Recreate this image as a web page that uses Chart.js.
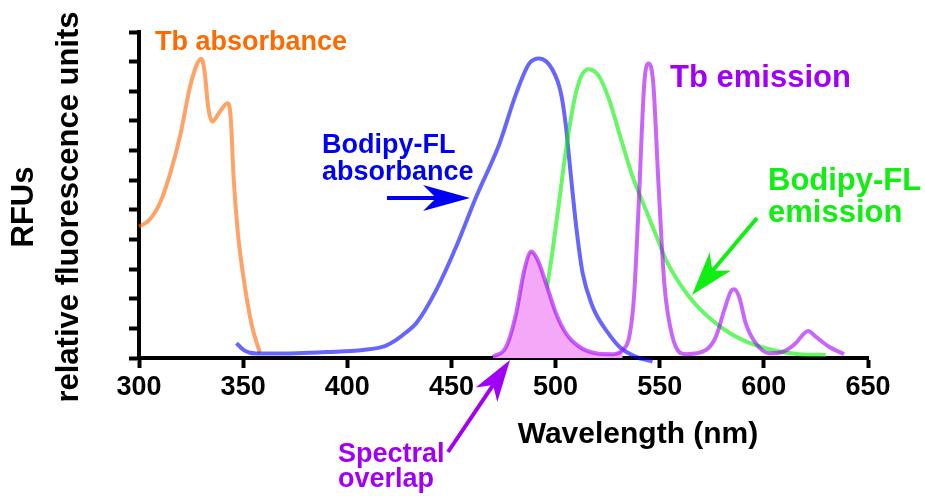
<!DOCTYPE html>
<html>
<head>
<meta charset="utf-8">
<script src="https://cdn.jsdelivr.net/npm/chart.js@4/dist/chart.umd.min.js"></script>
<style>
  html, body { margin: 0; padding: 0; background: #fff; }
  #wrap { width: 925px; height: 496px; }
</style>
</head>
<body>
<div id="wrap"><canvas id="spectra" width="925" height="496"></canvas></div>
<script>
// Wavelength (nm) / relative fluorescence
const tbAbsNm  = [300, 305, 310, 315, 320, 324.5, 327.7, 330, 331.6, 333.2, 335.1, 338.8, 342.5, 344, 345.5, 347.5, 350, 354, 358];
const tbAbsRfu = [44.3, 46.6, 52.2, 62.3, 75.8, 91.5, 98.9, 101, 96, 84.8, 79.8, 83.1, 86, 81.4, 60, 42, 28, 11.5, 1.8];

const bodipyAbsNm  = [346.8, 350, 353.2, 360, 375.6, 390, 407.5, 418, 423.5, 428, 433.1, 442.7, 452.3, 461.9, 473.1, 481.1, 487.4, 492.2, 498.6, 502.6, 505, 506.6, 508.2, 510.1, 513, 517.8, 521, 524.2, 530.6, 538.6, 546.5];
const bodipyAbsRfu = [5.0, 2.8, 1.8, 1.5, 1.6, 2.0, 2.7, 4.0, 6.1, 8.5, 11.7, 22.9, 37.6, 54.4, 72.4, 89.3, 99.4, 101.1, 97.2, 89.3, 78, 66.8, 55.6, 43.2, 28.6, 17.3, 12.8, 9.4, 3.8, 0.4, -1.2];

const bodipyEmNm  = [488, 492, 496.2, 498.6, 501.8, 505, 509, 512.2, 515.9, 521, 525.8, 530.6, 537, 543.4, 549.8, 553, 564.1, 577, 589.7, 604.1, 616.9, 629.7];
const bodipyEmRfu = [1, 6, 25.2, 36.4, 53.3, 70.2, 87, 94.9, 97.4, 94.9, 87, 75.8, 61.2, 49.9, 38.7, 33.1, 20.7, 11.7, 6.1, 2.7, 1.3, 1.0];

const tbEmNm  = [469.9, 476.3, 481.1, 485, 488.3, 491.4, 495.4, 500.2, 505, 511.4, 519.4, 527.4, 532.2, 535.4, 537.6, 539.8, 542.6, 544.6, 546.9, 549.4, 552.2, 556.1, 562.6, 572.2, 577, 581, 584.1, 585.7, 588.1, 591.3, 596.1, 602.5, 608.9, 615.3, 619.3, 621.3, 624.9, 631.3, 638.5];
const tbEmRfu = [0.4, 3.8, 15.1, 29.7, 35.9, 33.1, 25.2, 15.1, 8.3, 3.8, 1.6, 1.3, 2.7, 7.2, 20, 50, 92.7, 99.4, 92.7, 58.9, 25.2, 7.2, 1.3, 2.7, 7.2, 16.2, 22.4, 23.2, 20.7, 11.7, 5, 1.6, 2.1, 5, 8.3, 9.1, 7.2, 3.8, 1.3];

// shaded spectral overlap = Tb emission points up to where it meets the Bodipy absorbance
const overlapEndNm = 533;

const xTicks = [300, 350, 400, 450, 500, 550, 600, 650];

const FONT = "'Liberation Sans', Arial, Helvetica, sans-serif";
Chart.defaults.font.family = FONT;

const toPoints = (xs, ys) => xs.map((x, i) => ({ x: x, y: ys[i] }));
const overlapNm = tbEmNm.filter(x => x <= overlapEndNm);
const overlapRfu = tbEmRfu.slice(0, overlapNm.length);

const lineStyle = {
    borderWidth: 4,
    pointRadius: 0,
    fill: false,
    cubicInterpolationMode: 'monotone',
    clip: false,
};

// arrow with a notched head, tip at (x2, y2)
function drawArrow(ctx, x1, y1, x2, y2, color, headLen, headHalf) {
    const ang = Math.atan2(y2 - y1, x2 - x1);
    const cos = Math.cos(ang), sin = Math.sin(ang);
    const pt = (along, across) => [x2 - along * cos - across * sin, y2 - along * sin + across * cos];
    ctx.save();
    ctx.strokeStyle = color;
    ctx.fillStyle = color;
    ctx.lineWidth = 4;
    ctx.beginPath();
    ctx.moveTo(x1, y1);
    const s = pt(headLen * 0.7, 0);
    ctx.lineTo(s[0], s[1]);
    ctx.stroke();
    const a = pt(headLen, -headHalf), b = pt(headLen * 0.72, 0), c = pt(headLen, headHalf);
    ctx.beginPath();
    ctx.moveTo(x2, y2);
    ctx.lineTo(a[0], a[1]);
    ctx.lineTo(b[0], b[1]);
    ctx.lineTo(c[0], c[1]);
    ctx.closePath();
    ctx.fill();
    ctx.restore();
}

function label(ctx, lines, x, y, lineGap, size, color) {
    ctx.save();
    ctx.font = 'bold ' + size + 'px ' + FONT;
    ctx.fillStyle = color;
    ctx.textAlign = 'left';
    ctx.textBaseline = 'alphabetic';
    lines.forEach((t, i) => ctx.fillText(t, x, y + i * lineGap));
    ctx.restore();
}

const annotations = {
    id: 'annotations',
    afterDraw(chart) {
        const ctx = chart.ctx;

        label(ctx, ['Tb absorbance'], 155, 50, 0, 27, '#ff6a00');
        label(ctx, ['Bodipy-FL', 'absorbance'], 322, 153, 27, 27, '#0000f5');
        label(ctx, ['Tb emission'], 670, 87, 0, 31, '#a000f5');
        label(ctx, ['Bodipy-FL', 'emission'], 768, 190, 32, 31, '#11ee11');
        label(ctx, ['Spectral', 'overlap'], 338, 462, 25, 27, '#a000f5');

        drawArrow(ctx, 387, 198, 470, 198, '#0000f5', 47, 13);
        drawArrow(ctx, 757, 218, 692, 295, '#11ee11', 44, 14);
        drawArrow(ctx, 448, 452, 510, 360, '#a000f5', 42, 13);

        // axis titles
        ctx.save();
        ctx.fillStyle = '#000';
        ctx.font = 'bold 30px ' + FONT;
        ctx.textAlign = 'center';
        ctx.textBaseline = 'alphabetic';
        ctx.fillText('Wavelength (nm)', 638, 443);

        ctx.font = 'bold 31px ' + FONT;
        ctx.translate(0, 207);
        ctx.rotate(-Math.PI / 2);
        ctx.fillText('RFUs', 0, 33);
        ctx.fillText('relative fluorescence units', 0, 78);
        ctx.restore();
    }
};

new Chart(document.getElementById('spectra'), {
    type: 'line',
    data: {
        datasets: [
            Object.assign({ data: toPoints(tbEmNm, tbEmRfu), borderColor: 'rgba(165, 0, 245, 0.6)', order: 0 }, lineStyle),
            Object.assign({}, lineStyle, {
                data: toPoints(overlapNm, overlapRfu),
                borderWidth: 0,
                borderColor: 'rgba(0,0,0,0)',
                backgroundColor: '#f3a8f8',
                fill: 'origin',
                order: 1,
            }),
            Object.assign({ data: toPoints(bodipyEmNm, bodipyEmRfu), borderColor: 'rgba(0, 240, 0, 0.6)', order: 2 }, lineStyle),
            Object.assign({ data: toPoints(bodipyAbsNm, bodipyAbsRfu), borderColor: 'rgba(0, 0, 255, 0.6)', order: 3 }, lineStyle),
            Object.assign({ data: toPoints(tbAbsNm, tbAbsRfu), borderColor: 'rgba(255, 100, 0, 0.6)', order: 4 }, lineStyle),
        ],
    },
    options: {
        responsive: false,
        devicePixelRatio: 1,
        animation: false,
        events: [],
        layout: { padding: { top: 32, right: 57, left: 0, bottom: 0 } },
        plugins: {
            legend: { display: false },
            tooltip: { enabled: false },
        },
        scales: {
            x: {
                type: 'linear',
                min: 300,
                max: 650,
                afterBuildTicks: (scale) => { scale.ticks = xTicks.map(v => ({ value: v })); },
                afterFit: (scale) => { scale.height = 138; },
                ticks: {
                    color: '#000',
                    font: { size: 27, weight: 'bold' },
                    padding: 3,
                    maxRotation: 0,
                },
                grid: {
                    drawOnChartArea: false,
                    tickLength: 10,
                    tickWidth: 4,
                    tickColor: '#000',
                },
                border: { color: '#000', width: 4 },
            },
            y: {
                min: 0,
                max: 110,
                afterFit: (scale) => { scale.width = 139; },
                ticks: { stepSize: 10, display: false },
                grid: {
                    drawOnChartArea: false,
                    tickLength: 10,
                    tickWidth: 4,
                    tickColor: '#000',
                },
                border: { color: '#000', width: 4 },
            },
        },
    },
    plugins: [annotations],
});
</script>
</body>
</html>
